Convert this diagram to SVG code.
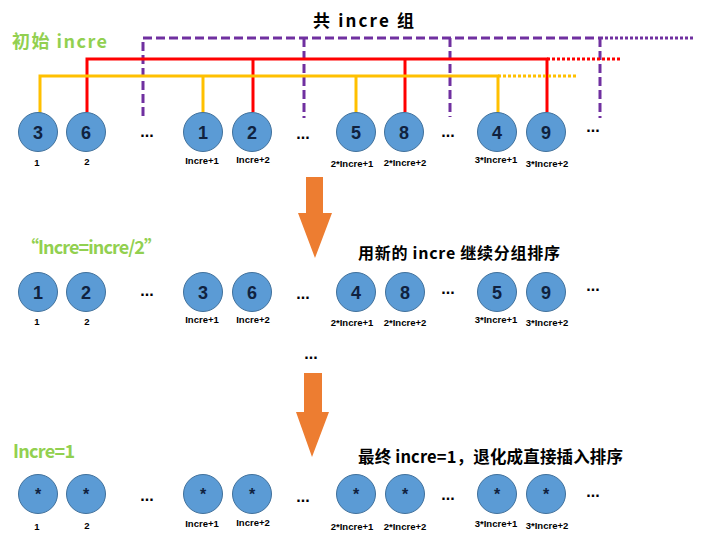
<svg xmlns="http://www.w3.org/2000/svg" width="711" height="536" viewBox="0 0 711 536">
<style>
.c{fill:#5b9bd5;stroke:#41719c;stroke-width:1}
.n{font-family:"Liberation Sans",Arial,sans-serif;font-weight:bold;font-size:18px;fill:#10223f;text-anchor:middle}
.s{font-family:"Liberation Sans",Arial,sans-serif;font-weight:bold;font-size:16px;fill:#10223f;text-anchor:middle}
.l{font-family:"Liberation Sans",Arial,sans-serif;font-weight:bold;font-size:9.5px;fill:#000;text-anchor:middle}
.d{font-family:"Liberation Sans",Arial,sans-serif;font-weight:bold;font-size:16px;fill:#000;text-anchor:middle}
.g{font-family:"Noto Sans CJK SC",sans-serif;font-weight:bold;fill:#92d050}
.t{font-family:"Noto Sans CJK SC",sans-serif;font-weight:bold;fill:#000}
.y{stroke:#ffc000;stroke-width:3;fill:none}
.r{stroke:#ff0000;stroke-width:3;fill:none}
.p{stroke:#7030a0;stroke-width:3;fill:none;stroke-dasharray:9 4}
.yd{stroke:#ffc000;stroke-width:3;fill:none;stroke-dasharray:3 2}
.rd{stroke:#ff0000;stroke-width:3;fill:none;stroke-dasharray:3 2}
.pd{stroke:#7030a0;stroke-width:3;fill:none;stroke-dasharray:3 2}
.a{fill:#ed7d31}
</style>
<rect width="711" height="536" fill="#fff"/>

<text class="t" x="313" y="27" font-size="17" textLength="101" lengthAdjust="spacing">共 incre 组</text>
<text class="g" x="12" y="48" font-size="18" textLength="95" lengthAdjust="spacing">初始 incre</text>

<g id="connectors">
  <path class="p" d="M143,116 V38 H600"/>
  <path class="pd" d="M600,38 H695"/>
  <path class="p" d="M304,38 V118"/>
  <path class="p" d="M450,38 V117"/>
  <path class="p" d="M600,38 V118"/>
  <path class="r" d="M87,112 V59 H547 V112"/>
  <path class="rd" d="M547,59 H622"/>
  <path class="r" d="M253,59 V112"/>
  <path class="r" d="M405,59 V112"/>
  <path class="y" d="M40,113 V76 H498 V113"/>
  <path class="yd" d="M498,76 H578"/>
  <path class="y" d="M203,76 V113"/>
  <path class="y" d="M356,76 V113"/>
</g>

<!-- Row 1 -->
<g id="r1n1"><circle class="c" cx="38" cy="132" r="19.5"/><text class="n" x="38" y="138.5">3</text><text class="l" x="37" y="166">1</text></g>
<g id="r1n2"><circle class="c" cx="86" cy="132" r="19.5"/><text class="n" x="86" y="138.5">6</text><text class="l" x="87" y="165">2</text></g>
<g id="r1d1"><text class="d" x="147" y="137">...</text></g>
<g id="r1n3"><circle class="c" cx="203" cy="132" r="19.5"/><text class="n" x="203" y="138.5">1</text><text class="l" x="202" y="164">Incre+1</text></g>
<g id="r1n4"><circle class="c" cx="252" cy="132" r="19.5"/><text class="n" x="252" y="138.5">2</text><text class="l" x="253" y="163">Incre+2</text></g>
<g id="r1d2"><text class="d" x="303" y="139">...</text></g>
<g id="r1n5"><circle class="c" cx="356" cy="132" r="19.5"/><text class="n" x="356" y="138.5">5</text><text class="l" x="352" y="167">2*Incre+1</text></g>
<g id="r1n6"><circle class="c" cx="404" cy="132" r="19.5"/><text class="n" x="404" y="138.5">8</text><text class="l" x="405" y="166">2*Incre+2</text></g>
<g id="r1d3"><text class="d" x="448" y="137">...</text></g>
<g id="r1n7"><circle class="c" cx="497" cy="132" r="19.5"/><text class="n" x="497" y="138.5">4</text><text class="l" x="496" y="163">3*Incre+1</text></g>
<g id="r1n8"><circle class="c" cx="546" cy="132" r="19.5"/><text class="n" x="546" y="138.5">9</text><text class="l" x="547" y="167">3*Incre+2</text></g>
<g id="r1d4"><text class="d" x="593" y="132">...</text></g>

<g id="arrow1"><polygon class="a" points="306,177 323,177 323,213 332,213 315,258 298,213 306,213"/></g>

<text class="g" x="21" y="254" font-size="18" textLength="141" lengthAdjust="spacing">“Incre=incre/2”</text>
<text class="t" x="358" y="259" font-size="16" textLength="202" lengthAdjust="spacing">用新的 incre 继续分组排序</text>

<!-- Row 2 -->
<g id="r2n1"><circle class="c" cx="38" cy="292" r="19.5"/><text class="n" x="38" y="298.5">1</text><text class="l" x="37" y="325">1</text></g>
<g id="r2n2"><circle class="c" cx="86" cy="292" r="19.5"/><text class="n" x="86" y="298.5">2</text><text class="l" x="87" y="325">2</text></g>
<g id="r2d1"><text class="d" x="147" y="296">...</text></g>
<g id="r2n3"><circle class="c" cx="203" cy="292" r="19.5"/><text class="n" x="203" y="298.5">3</text><text class="l" x="202" y="323">Incre+1</text></g>
<g id="r2n4"><circle class="c" cx="252" cy="292" r="19.5"/><text class="n" x="252" y="298.5">6</text><text class="l" x="253" y="323">Incre+2</text></g>
<g id="r2d2"><text class="d" x="303" y="299">...</text></g>
<g id="r2n5"><circle class="c" cx="356" cy="292" r="19.5"/><text class="n" x="356" y="298.5">4</text><text class="l" x="352" y="326">2*Incre+1</text></g>
<g id="r2n6"><circle class="c" cx="405" cy="292" r="19.5"/><text class="n" x="405" y="298.5">8</text><text class="l" x="405" y="326">2*Incre+2</text></g>
<g id="r2d3"><text class="d" x="448" y="294">...</text></g>
<g id="r2n7"><circle class="c" cx="497" cy="292" r="19.5"/><text class="n" x="497" y="298.5">5</text><text class="l" x="496" y="323">3*Incre+1</text></g>
<g id="r2n8"><circle class="c" cx="546" cy="292" r="19.5"/><text class="n" x="546" y="298.5">9</text><text class="l" x="547" y="326">3*Incre+2</text></g>
<g id="r2d4"><text class="d" x="593" y="291">...</text></g>

<g id="mid"><text class="d" x="311" y="359">...</text></g>
<g id="arrow2"><polygon class="a" points="304,373 322,373 322,412 329,412 312,457 296,412 304,412"/></g>

<text class="g" x="13" y="458" font-size="18" textLength="62" lengthAdjust="spacing">Incre=1</text>
<text class="t" x="358" y="463" font-size="16.5" textLength="265" lengthAdjust="spacing">最终 incre=1，退化成直接插入排序</text>

<!-- Row 3 -->
<g id="r3n1"><circle class="c" cx="38" cy="494" r="19.5"/><text class="s" x="38" y="500">*</text><text class="l" x="37" y="530">1</text></g>
<g id="r3n2"><circle class="c" cx="86" cy="494" r="19.5"/><text class="s" x="86" y="500">*</text><text class="l" x="87" y="529">2</text></g>
<g id="r3d1"><text class="d" x="147" y="501">...</text></g>
<g id="r3n3"><circle class="c" cx="203" cy="494" r="19.5"/><text class="s" x="203" y="500">*</text><text class="l" x="202" y="527">Incre+1</text></g>
<g id="r3n4"><circle class="c" cx="252" cy="494" r="19.5"/><text class="s" x="252" y="500">*</text><text class="l" x="253" y="526">Incre+2</text></g>
<g id="r3d2"><text class="d" x="303" y="502">...</text></g>
<g id="r3n5"><circle class="c" cx="356" cy="494" r="19.5"/><text class="s" x="356" y="500">*</text><text class="l" x="352" y="530">2*Incre+1</text></g>
<g id="r3n6"><circle class="c" cx="405" cy="494" r="19.5"/><text class="s" x="405" y="500">*</text><text class="l" x="405" y="530">2*Incre+2</text></g>
<g id="r3d3"><text class="d" x="448" y="500">...</text></g>
<g id="r3n7"><circle class="c" cx="497" cy="494" r="19.5"/><text class="s" x="497" y="500">*</text><text class="l" x="496" y="527">3*Incre+1</text></g>
<g id="r3n8"><circle class="c" cx="546" cy="494" r="19.5"/><text class="s" x="546" y="500">*</text><text class="l" x="547" y="529">3*Incre+2</text></g>
<g id="r3d4"><text class="d" x="593" y="497">...</text></g>
</svg>
